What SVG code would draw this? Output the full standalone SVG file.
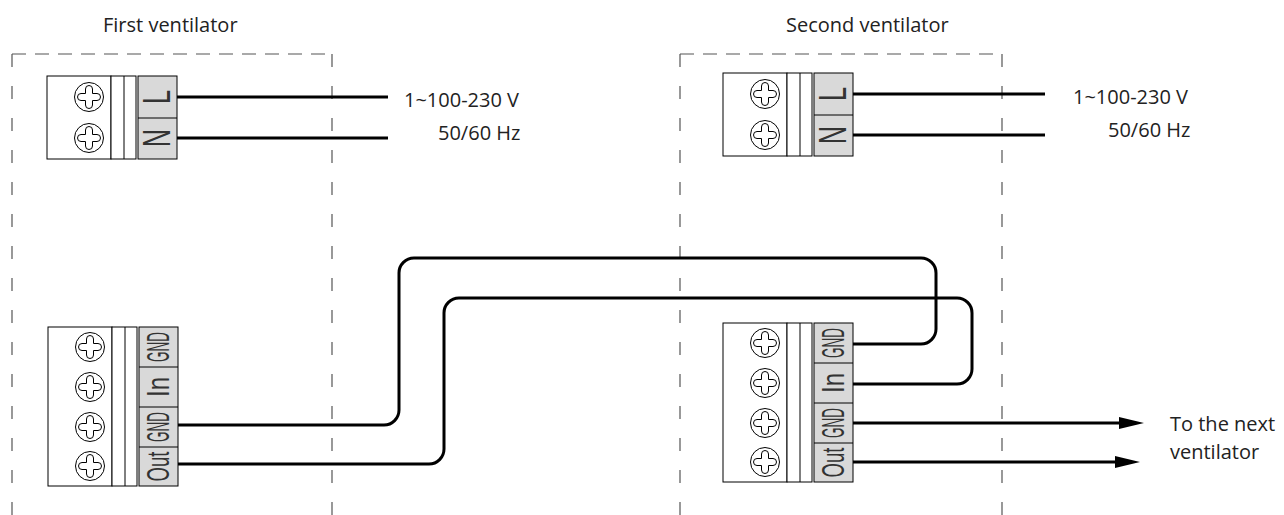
<svg xmlns="http://www.w3.org/2000/svg" xmlns:xlink="http://www.w3.org/1999/xlink" width="1284" height="515" viewBox="0 0 1284 515">
<style>
.txt{font-family:"Open Sans","Noto Sans",sans-serif;font-size:20px;fill:#222}
.dh{fill:none;stroke:#555;stroke-width:1.2;stroke-dasharray:14 9}
.dv{fill:none;stroke:#555;stroke-width:1.2;stroke-dasharray:13 19}
.blk{fill:#fff;stroke:#000;stroke-width:1}
.lab{fill:#d9d9d9;stroke:#000;stroke-width:1}
.ln{stroke:#000;stroke-width:1;fill:none}
.lbl{font-family:"Liberation Sans",Arial,sans-serif;font-size:32px;fill:#333}
.big{font-size:38px}
.wire{fill:none;stroke:#000;stroke-width:3}
</style>
<defs>
<g id="screw">
<circle cx="0" cy="0" r="14.5" fill="#fff" stroke="#000" stroke-width="1"/>
<path d="M-3.5,-3.5 L-3.5,-8 A3.5,3.5 0 0 1 3.5,-8 L3.5,-3.5 L8,-3.5 A3.5,3.5 0 0 1 8,3.5 L3.5,3.5 L3.5,8 A3.5,3.5 0 0 1 -3.5,8 L-3.5,3.5 L-8,3.5 A3.5,3.5 0 0 1 -8,-3.5 Z" fill="#fff" stroke="#000" stroke-width="1"/>
</g>
<marker id="arr" markerUnits="userSpaceOnUse" markerWidth="26" markerHeight="12" refX="0" refY="6" orient="auto">
<path d="M0,0 L25,6 L0,12 Z" fill="#000"/>
</marker>
</defs>

<text class="txt" x="103" y="32">First ventilator</text>
<text class="txt" x="786" y="32">Second ventilator</text>

<g id="frame1">
<path class="dh" d="M12,54 H332"/>
<path class="dv" d="M12,54 V515"/>
<path class="dv" d="M332,54 V515"/>
</g>
<g id="frame2">
<path class="dh" d="M680,54 H1002"/>
<path class="dv" d="M680,54 V515"/>
<path class="dv" d="M1002,54 V515"/>
</g>

<g id="power1" transform="translate(47,76)">
<rect class="blk" x="0" y="0" width="64" height="83"/>
<rect class="blk" x="64" y="0" width="25" height="83"/>
<line class="ln" x1="77" y1="0" x2="77" y2="83"/>
<rect class="lab" x="91" y="0" width="39" height="83"/>
<line class="ln" x1="91" y1="42" x2="130" y2="42"/>
<use xlink:href="#screw" x="42" y="21"/>
<use xlink:href="#screw" x="42" y="62"/>
<text class="lbl big" transform="translate(109.5,21) rotate(-90)" x="0" y="13" text-anchor="middle" textLength="14" lengthAdjust="spacingAndGlyphs">L</text>
<text class="lbl big" transform="translate(109.5,62) rotate(-90)" x="0" y="13" text-anchor="middle" textLength="18" lengthAdjust="spacingAndGlyphs">N</text>
</g>

<g id="power2" transform="translate(723,73)">
<rect class="blk" x="0" y="0" width="64" height="83"/>
<rect class="blk" x="64" y="0" width="25" height="83"/>
<line class="ln" x1="77" y1="0" x2="77" y2="83"/>
<rect class="lab" x="91" y="0" width="39" height="83"/>
<line class="ln" x1="91" y1="42" x2="130" y2="42"/>
<use xlink:href="#screw" x="42" y="21"/>
<use xlink:href="#screw" x="42" y="62"/>
<text class="lbl big" transform="translate(109.5,21) rotate(-90)" x="0" y="13" text-anchor="middle" textLength="14" lengthAdjust="spacingAndGlyphs">L</text>
<text class="lbl big" transform="translate(109.5,62) rotate(-90)" x="0" y="13" text-anchor="middle" textLength="18" lengthAdjust="spacingAndGlyphs">N</text>
</g>

<g id="signal1" transform="translate(48,327)">
<rect class="blk" x="0" y="0" width="64" height="159"/>
<rect class="blk" x="64" y="0" width="25" height="159"/>
<line class="ln" x1="77" y1="0" x2="77" y2="159"/>
<rect class="lab" x="91" y="0" width="39" height="159"/>
<line class="ln" x1="91" y1="40" x2="130" y2="40"/>
<line class="ln" x1="91" y1="80" x2="130" y2="80"/>
<line class="ln" x1="91" y1="120" x2="130" y2="120"/>
<use xlink:href="#screw" x="42" y="20"/>
<use xlink:href="#screw" x="42" y="60"/>
<use xlink:href="#screw" x="42" y="100"/>
<use xlink:href="#screw" x="42" y="139"/>
<text class="lbl" transform="translate(109.5,20) rotate(-90)" x="0" y="11.5" text-anchor="middle" textLength="30" lengthAdjust="spacingAndGlyphs">GND</text>
<text class="lbl" transform="translate(109.5,60) rotate(-90)" x="0" y="11.5" text-anchor="middle" textLength="20" lengthAdjust="spacingAndGlyphs">In</text>
<text class="lbl" transform="translate(109.5,100) rotate(-90)" x="0" y="11.5" text-anchor="middle" textLength="30" lengthAdjust="spacingAndGlyphs">GND</text>
<text class="lbl" transform="translate(109.5,139.5) rotate(-90)" x="0" y="11.5" text-anchor="middle" textLength="30" lengthAdjust="spacingAndGlyphs">Out</text>
</g>

<g id="signal2" transform="translate(723,323)">
<rect class="blk" x="0" y="0" width="64" height="159"/>
<rect class="blk" x="64" y="0" width="25" height="159"/>
<line class="ln" x1="77" y1="0" x2="77" y2="159"/>
<rect class="lab" x="91" y="0" width="39" height="159"/>
<line class="ln" x1="91" y1="40" x2="130" y2="40"/>
<line class="ln" x1="91" y1="80" x2="130" y2="80"/>
<line class="ln" x1="91" y1="120" x2="130" y2="120"/>
<use xlink:href="#screw" x="42" y="20"/>
<use xlink:href="#screw" x="42" y="60"/>
<use xlink:href="#screw" x="42" y="100"/>
<use xlink:href="#screw" x="42" y="139"/>
<text class="lbl" transform="translate(109.5,20) rotate(-90)" x="0" y="11.5" text-anchor="middle" textLength="30" lengthAdjust="spacingAndGlyphs">GND</text>
<text class="lbl" transform="translate(109.5,60) rotate(-90)" x="0" y="11.5" text-anchor="middle" textLength="20" lengthAdjust="spacingAndGlyphs">In</text>
<text class="lbl" transform="translate(109.5,100) rotate(-90)" x="0" y="11.5" text-anchor="middle" textLength="30" lengthAdjust="spacingAndGlyphs">GND</text>
<text class="lbl" transform="translate(109.5,139.5) rotate(-90)" x="0" y="11.5" text-anchor="middle" textLength="30" lengthAdjust="spacingAndGlyphs">Out</text>
</g>

<g id="supply1">
<text class="txt" x="404" y="107">1~100-230 V</text>
<text class="txt" x="438" y="140">50/60 Hz</text>
</g>
<g id="supply2">
<text class="txt" x="1073" y="104">1~100-230 V</text>
<text class="txt" x="1108" y="137">50/60 Hz</text>
</g>
<g id="next">
<text class="txt" x="1170" y="431">To the next</text>
<text class="txt" x="1170" y="459">ventilator</text>
</g>

<g id="connectors">
<path class="wire" d="M177,97 H388"/>
<path class="wire" d="M177,138 H388"/>
<path class="wire" d="M853,94 H1045"/>
<path class="wire" d="M853,135 H1045"/>
<path class="wire" d="M178,425 H384 A15,15 0 0 0 399,410 V273 A15,15 0 0 1 414,258 H921 A15,15 0 0 1 936,273 V329 A15,15 0 0 1 921,344 H853"/>
<path class="wire" d="M178,464 H429 A15,15 0 0 0 444,449 V313 A15,15 0 0 1 459,298 H957 A15,15 0 0 1 972,313 V369 A15,15 0 0 1 957,384 H853"/>
<path class="wire" d="M853,423 H1119" marker-end="url(#arr)"/>
<path class="wire" d="M853,462 H1115" marker-end="url(#arr)"/>
</g>
</svg>
